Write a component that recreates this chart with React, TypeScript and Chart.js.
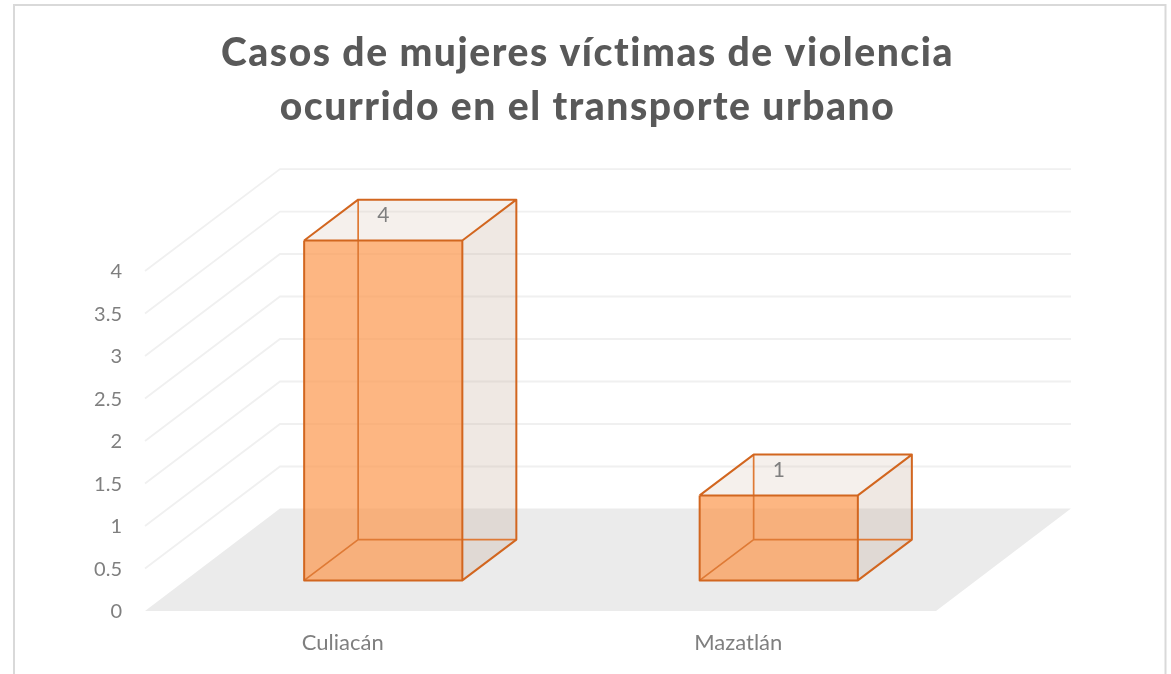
import React, { useEffect, useRef } from "react";
import { Chart, registerables } from "chart.js";

Chart.register(...registerables);

const categories = ["Culiacán", "Mazatlán"];
const seriesValues = [4, 1];
const yTickValues = [0, 0.5, 1, 1.5, 2, 2.5, 3, 3.5, 4];
const titleLines = ["Casos de mujeres víctimas de violencia", "ocurrido en el transporte urbano"];

const FLOOR_DX = 135;
const FLOOR_DY = -102;
const FRONT = 0.3;
const BACK = 0.7;

const scene3d = {
  id: "scene3d",
  afterLayout(chart: any) {
    const t = chart.titleBlock;
    t.left = 0;
    t.right = 1175;
    if (!t._spaced) {
      t._spaced = true;
      const draw = t.draw.bind(t);
      t.draw = () => {
        chart.ctx.letterSpacing = "1.55px";
        draw();
        chart.ctx.letterSpacing = "0px";
      };
    }
  },
  beforeDraw(chart: any) {
    const { ctx, scales } = chart;
    const y = scales.y;
    const left = chart.chartArea.left;
    const right = chart.chartArea.right;
    ctx.save();
    // frame
    ctx.strokeStyle = "#d9d9d9";
    ctx.lineWidth = 2;
    ctx.strokeRect(14, 5, 1151.5, 720);
    // floor
    const y0 = y.getPixelForValue(0);
    ctx.fillStyle = "#ebebeb";
    ctx.beginPath();
    ctx.moveTo(left, y0);
    ctx.lineTo(left + FLOOR_DX, y0 + FLOOR_DY - 0.5);
    ctx.lineTo(right + FLOOR_DX, y0 + FLOOR_DY - 0.5);
    ctx.lineTo(right, y0);
    ctx.closePath();
    ctx.fill();
    // walls
    ctx.strokeStyle = "#f0f0f0";
    ctx.lineWidth = 1.8;
    for (const v of yTickValues) {
      if (v === 0) continue;
      const p = y.getPixelForValue(v);
      ctx.beginPath();
      ctx.moveTo(left, p);
      ctx.lineTo(left + FLOOR_DX, p + FLOOR_DY);
      ctx.lineTo(right + FLOOR_DX, p + FLOOR_DY);
      ctx.stroke();
    }
    ctx.restore();
  },
  beforeDatasetsDraw(chart: any) {
    const { ctx } = chart;
    ctx.save();
    ctx.translate(FLOOR_DX * FRONT, FLOOR_DY * FRONT);
  },
  afterDatasetsDraw(chart: any) {
    const { ctx } = chart;
    ctx.restore();
    const fx = FLOOR_DX * FRONT;
    const fy = FLOOR_DY * FRONT;
    const dx = FLOOR_DX * (BACK - FRONT);
    const dy = FLOOR_DY * (BACK - FRONT);
    const bars = chart.getDatasetMeta(0).data;
    bars.forEach((bar: any, i: number) => {
      const w = bar.width / 2;
      const l = bar.x - w + fx;
      const r = bar.x + w + fx;
      const t = bar.y + fy;
      const b = bar.base + fy;
      ctx.save();
      ctx.lineJoin = "round";
      // right side
      ctx.fillStyle = "rgba(191,163,143,0.25)";
      ctx.beginPath();
      ctx.moveTo(r, t);
      ctx.lineTo(r + dx, t + dy);
      ctx.lineTo(r + dx, b + dy);
      ctx.lineTo(r, b);
      ctx.closePath();
      ctx.fill();
      // top
      ctx.fillStyle = "rgba(215,195,179,0.25)";
      ctx.beginPath();
      ctx.moveTo(l, t);
      ctx.lineTo(l + dx, t + dy);
      ctx.lineTo(r + dx, t + dy);
      ctx.lineTo(r, t);
      ctx.closePath();
      ctx.fill();
      // hidden edges
      ctx.strokeStyle = "#df7a35";
      ctx.lineWidth = 1.7;
      ctx.beginPath();
      ctx.moveTo(l, b);
      ctx.lineTo(l + dx, b + dy);
      ctx.lineTo(r + dx, b + dy);
      ctx.moveTo(l + dx, b + dy);
      ctx.lineTo(l + dx, t + dy);
      ctx.stroke();
      // visible edges
      ctx.strokeStyle = "#d2661f";
      ctx.lineWidth = 2;
      ctx.beginPath();
      ctx.moveTo(l, t);
      ctx.lineTo(l + dx, t + dy);
      ctx.lineTo(r + dx, t + dy);
      ctx.lineTo(r, t);
      ctx.moveTo(r + dx, t + dy);
      ctx.lineTo(r + dx, b + dy);
      ctx.lineTo(r, b);
      ctx.moveTo(l, t);
      ctx.lineTo(l, b);
      ctx.lineTo(r, b);
      ctx.lineTo(r, t);
      ctx.lineTo(l, t);
      ctx.stroke();
      // value label
      ctx.fillStyle = "#7f7f7f";
      ctx.font = "21px Lato";
      ctx.textAlign = "center";
      ctx.textBaseline = "middle";
      ctx.fillText(String(seriesValues[i]), bar.x + fx, t - 25);
      ctx.restore();
    });
  },
};

export default function App() {
  const ref = useRef<HTMLCanvasElement>(null);
  useEffect(() => {
    const chart = new Chart(ref.current as HTMLCanvasElement, {
      type: "bar",
      data: {
        labels: categories,
        datasets: [
          {
            label: "Casos",
            data: seriesValues,
            backgroundColor: "rgba(252,151,77,0.7)",
            borderWidth: 0,
            categoryPercentage: 0.4,
            barPercentage: 1,
            clip: false,
          } as any,
        ],
      },
      options: {
        animation: false,
        responsive: false,
        layout: { padding: { left: 0, right: 235, top: 0, bottom: 0 } },
        plugins: {
          legend: { display: false },
          tooltip: { enabled: false },
          title: {
            display: true,
            text: titleLines,
            color: "#595959",
            font: { family: "Lato", size: 39, weight: "900", lineHeight: 1.385 },
            padding: { top: 26, bottom: 137 },
          },
        },
        scales: {
          x: {
            grid: { display: false },
            border: { display: false },
            ticks: { color: "#7f7f7f", font: { family: "Lato", size: 22 }, padding: 11 },
            afterFit: (s: any) => {
              s.height = 63;
            },
          },
          y: {
            min: 0,
            max: 4,
            grid: { display: false, drawTicks: false },
            border: { display: false },
            ticks: {
              stepSize: 0.5,
              color: "#7f7f7f",
              font: { family: "Lato", size: 20 },
              padding: 23,
              labelOffset: 1,
              callback: (v: any) => String(v),
            },
            afterFit: (s: any) => {
              s.width = 145;
            },
          },
        },
      },
      plugins: [scene3d],
    } as any);
    return () => chart.destroy();
  }, []);
  return (
    <canvas
      ref={ref}
      width={1171}
      height={674}
      style={{ position: "fixed", left: 0, top: 0, width: 1171, height: 674, display: "block" }}
    />
  );
}
